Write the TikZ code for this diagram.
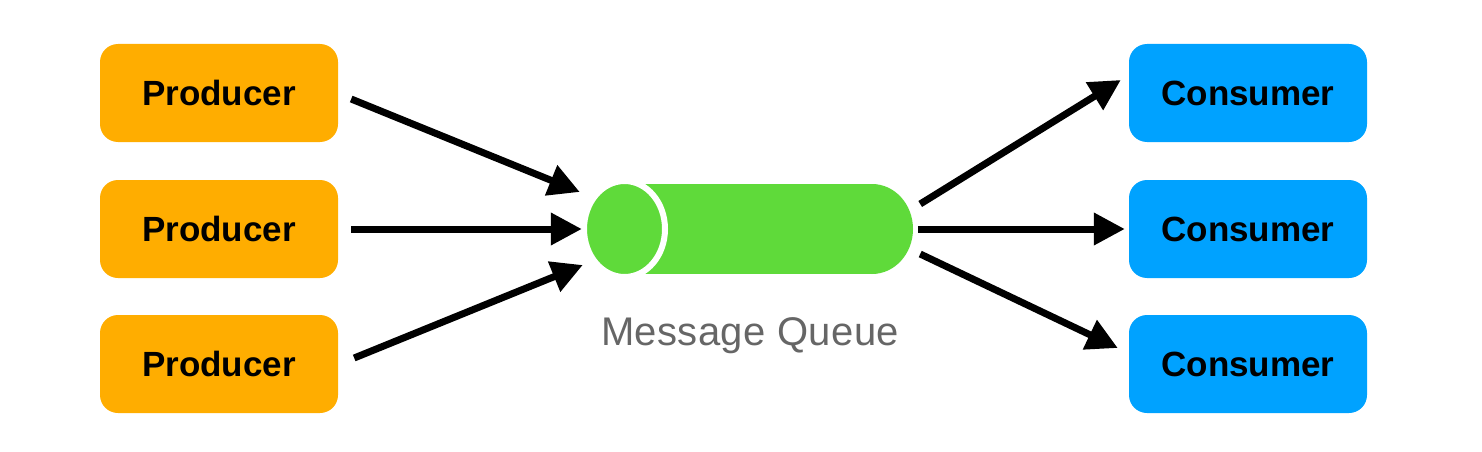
\documentclass[tikz,border=0pt]{standalone}
\usepackage{fontspec}
\setmainfont{Liberation Sans}
\usetikzlibrary{arrows.meta}
\definecolor{prodorange}{HTML}{FFAD00}
\definecolor{consblue}{HTML}{00A2FF}
\definecolor{queuegreen}{HTML}{5FDA3A}
\definecolor{labelgray}{HTML}{666666}
\begin{document}
\begin{tikzpicture}[x=1pt,y=-1pt,
  box/.style={rounded corners=18pt, minimum width=238pt, minimum height=98pt, inner sep=0pt,
    font=\fontsize{35}{40}\selectfont\bfseries, text=black},
  prodbox/.style={box, fill=prodorange},
  consbox/.style={box, fill=consblue},
  arr/.style={line width=7pt, draw=black, -{Triangle[length=31pt,width=31pt]}}]
\useasboundingbox (0,0) rectangle (1482,452);
% producers
\node[prodbox] (p1) at (219,93) {Producer};
\node[prodbox] (p2) at (219,229) {Producer};
\node[prodbox] (p3) at (219,364) {Producer};
% consumers
\node[consbox] (c1) at (1248,93) {Consumer};
\node[consbox] (c2) at (1248,229) {Consumer};
\node[consbox] (c3) at (1248,364) {Consumer};
% queue
\node[minimum width=326pt, minimum height=90pt, inner sep=0pt] (q) at (750,229) {};
\fill[queuegreen] (624,184) rectangle (872,274);
\fill[queuegreen] (872,229) ellipse[x radius=41, y radius=45];
\filldraw[fill=queuegreen, draw=white, line width=6pt] (624.5,229) ellipse[x radius=40.5, y radius=48];
\node[anchor=base, font=\fontsize{40}{48}\selectfont\addfontfeatures{LetterSpace=1}, text=labelgray] (ql) at (750,345) {Message Queue};
% connector ends
\coordinate (p1o) at ([shift={(13,6)}]p1.east);
\coordinate (p2o) at ([shift={(13,0)}]p2.east);
\coordinate (p3o) at ([shift={(16,-6)}]p3.east);
\coordinate (qi1) at ([shift={(-7,-37)}]q.west);
\coordinate (qi2) at ([shift={(-5,0)}]q.west);
\coordinate (qi3) at ([shift={(-4,36)}]q.west);
\coordinate (qo1) at ([shift={(7,-25)}]q.east);
\coordinate (qo2) at ([shift={(5,0)}]q.east);
\coordinate (qo3) at ([shift={(7,25)}]q.east);
\coordinate (ci1) at ([shift={(-8,-13)}]c1.west);
\coordinate (ci2) at ([shift={(-4,0)}]c2.west);
\coordinate (ci3) at ([shift={(-11,-16)}]c3.west);
\draw[arr] (p1o) -- (qi1);
\draw[arr] (p2o) -- (qi2);
\draw[arr] (p3o) -- (qi3);
\draw[arr] (qo1) -- (ci1);
\draw[arr] (qo2) -- (ci2);
\draw[arr] (qo3) -- (ci3);
\end{tikzpicture}
\end{document}
